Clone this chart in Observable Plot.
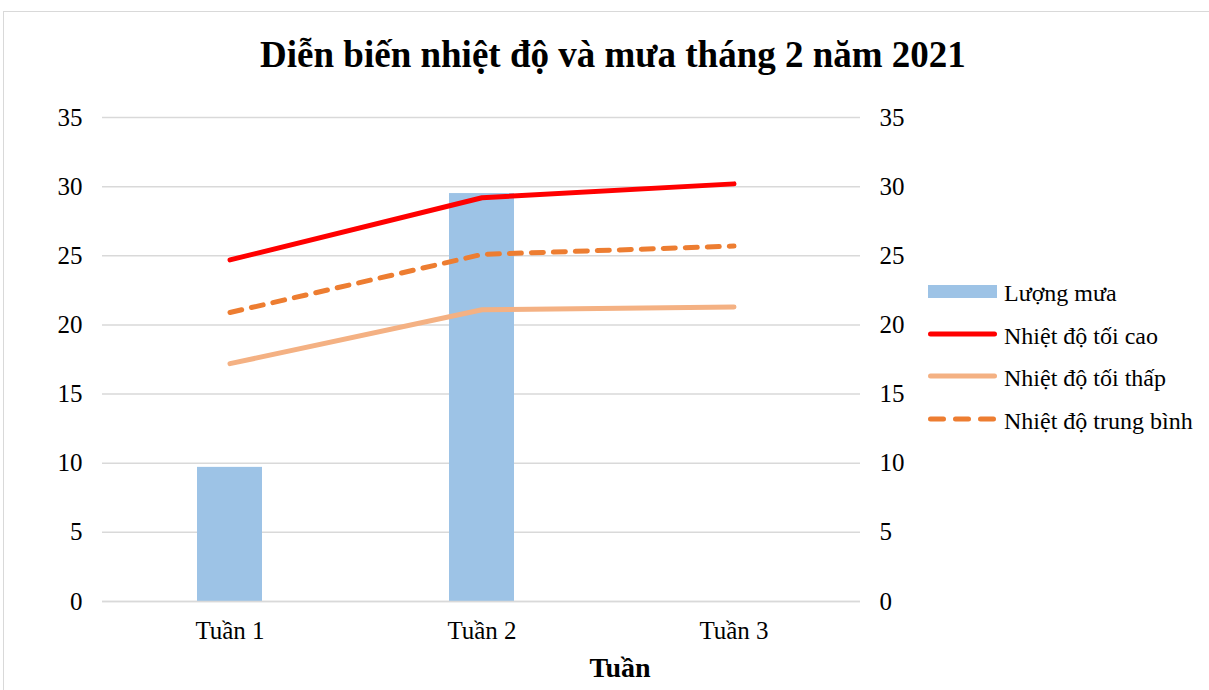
<!DOCTYPE html>
<html>
<head>
<meta charset="utf-8">
<script src="https://cdn.jsdelivr.net/npm/d3@7"></script>
<script src="https://cdn.jsdelivr.net/npm/@observablehq/plot@0.6"></script>
<style>
  html, body { margin: 0; padding: 0; background: #fff; }
  #wrap { position: relative; width: 1209px; height: 690px; overflow: hidden; font-family: "Liberation Serif", "Times New Roman", serif; color: #000; }
  #frame { position: absolute; left: 3px; top: 11px; width: 1300px; height: 800px; border: 1px solid #d9d9d9; box-sizing: border-box; }
  #title { position: absolute; left: 0; width: 1226px; top: 35px; text-align: center; font-size: 37px; font-weight: bold; line-height: 40px; white-space: nowrap; }
  #xlabel { position: absolute; left: 0; width: 1240px; top: 654px; text-align: center; font-size: 28px; font-weight: bold; line-height: 28px; }
  #chart { position: absolute; left: 0; top: 0; }
  #legend { position: absolute; left: 928px; top: 279px; font-size: 24px; }
  .row { position: relative; height: 42.5px; }
  .sw { position: absolute; left: 0; width: 69px; }
  .lab { position: absolute; left: 76px; top: 2px; line-height: 24px; white-space: nowrap; }
</style>
</head>
<body>
<div id="wrap">
  <div id="frame"></div>
  <div id="chart"></div>
  <div id="title">Diễn biến nhiệt độ và mưa tháng 2 năm 2021</div>
  <div id="xlabel">Tuần</div>
  <div id="legend"></div>
</div>
<script>
const weeks = ["Tuần 1", "Tuần 2", "Tuần 3"];
const rain = [9.7, 29.5, 0];
const tMax = [24.7, 29.2, 30.2];
const tMin = [17.2, 21.1, 21.3];
const tAvg = [20.9, 25.1, 25.7];
const yTicks = [0, 5, 10, 15, 20, 25, 30, 35];

const seriesNames = ["Lượng mưa", "Nhiệt độ tối cao", "Nhiệt độ tối thấp", "Nhiệt độ trung bình"];
const colors = ["#9DC3E6", "#FF0000", "#F4B183", "#ED7D31"];

const rainData = weeks.map((w, i) => ({week: w, value: rain[i]}));
const mk = arr => weeks.map((w, i) => ({week: w, value: arr[i]}));

const lineStyle = {x: "week", y: "value", strokeWidth: 5, strokeLinecap: "round", strokeLinejoin: "round"};

const chart = Plot.plot({
  width: 1209,
  height: 690,
  marginLeft: 102,
  marginRight: 349,
  marginTop: 117,
  marginBottom: 89,
  style: {fontFamily: "'Liberation Serif', 'Times New Roman', serif", fontSize: "25px", color: "#000", background: "transparent", overflow: "visible"},
  x: {domain: weeks, paddingInner: 0.743, paddingOuter: 0.3715, label: null},
  y: {domain: [0, 35], label: null},
  marks: [
    Plot.gridY(yTicks, {stroke: "#d9d9d9", strokeOpacity: 1, strokeWidth: 1.5}),
    Plot.axisY(yTicks, {anchor: "left", tickSize: 0, tickPadding: 20, label: null, fill: "#000", fontSize: 25}),
    Plot.axisY(yTicks, {anchor: "right", tickSize: 0, tickPadding: 19, label: null, fill: "#000", fontSize: 25}),
    Plot.axisX({tickSize: 0, tickPadding: 20, label: null, fill: "#000", fontSize: 25}),
    Plot.barY(rainData, {x: "week", y: "value", fill: colors[0]}),
    Plot.ruleY([0], {stroke: "#d9d9d9", strokeWidth: 1.5}),
    Plot.line(mk(tMin), {...lineStyle, stroke: colors[2]}),
    Plot.line(mk(tAvg), {...lineStyle, stroke: colors[3], strokeDasharray: "12,10"}),
    Plot.line(mk(tMax), {...lineStyle, stroke: colors[1]})
  ]
});
document.getElementById("chart").appendChild(chart);

const legend = document.getElementById("legend");
seriesNames.forEach((name, i) => {
  const row = document.createElement("div");
  row.className = "row";
  let sw;
  if (i === 0) {
    sw = `<div class="sw" style="top:6px;height:13px;background:${colors[0]}"></div>`;
  } else {
    const dash = i === 3 ? 'stroke-dasharray="13,12"' : '';
    sw = `<svg class="sw" width="69" height="8" style="top:8px;overflow:visible"><line x1="2.5" y1="4" x2="66.5" y2="4" stroke="${colors[i]}" stroke-width="5" stroke-linecap="round" ${dash}/></svg>`;
  }
  row.innerHTML = sw + `<div class="lab">${name}</div>`;
  legend.appendChild(row);
});
</script>
</body>
</html>
